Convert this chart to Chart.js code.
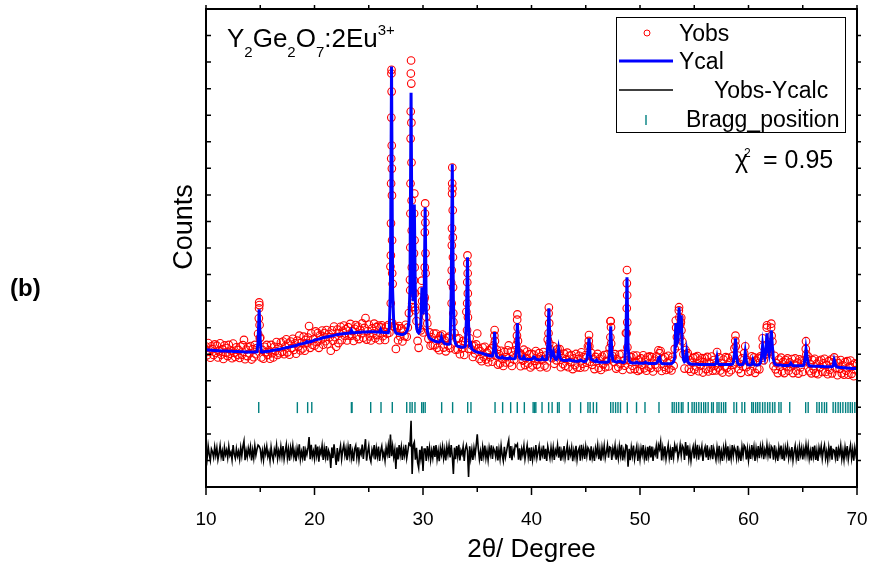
<!DOCTYPE html>
<html>
<head>
<meta charset="utf-8">
<title>Y2Ge2O7:2Eu3+ Rietveld refinement</title>
<script src="https://cdn.jsdelivr.net/npm/chart.js@4.4.1/dist/chart.umd.min.js"></script>
<style>
  html, body { margin: 0; padding: 0; background: #fff; }
  #wrap { width: 869px; height: 571px; }
</style>
</head>
<body>
<div id="wrap"><canvas id="myChart" width="869" height="571"></canvas></div>
<script>
// scan: 2theta start and step (degrees)
var scanStart = 10, scanStep = 0.1;

// observed counts, one row per degree (x.0 ... x.9)
var yObs = [
  5290,4960,5420,5100,4870,5300,5190,4970,5370,5050, // 10
  5320,4880,5110,5410,4980,5190,4820,5330,5060,5230, // 11
  4930,5350,5020,5140,4850,5400,5060,4900,5260,4980, // 12
  5160,4860,5290,4980,5340,5540,4810,5170,4930,5260, // 13
  5030,5310,4800,5190,4890,5350,5000,5230,5770,6950, // 14
  5630,4880,5160,4830,5280,5070,5350,4970,5150,4830, // 15
  5350,5040,4880,5280,5120,5460,4970,5260,5040,5440, // 16
  5090,5480,5000,5290,5560,5070,5400,4980,5480,5230, // 17
  5580,5160,5410,5020,5510,5290,5700,5140,5430,5220, // 18
  5660,5130,5540,5420,5630,6060,5240,5790,5360,5570, // 19
  5320,5860,5460,5800,5240,5710,5560,5890,5360,5800, // 20
  5490,5910,5380,5760,5640,5130,5900,5510,6040,5640, // 21
  5280,5930,5420,5790,6030,5530,5880,6080,5690,5940, // 22
  5520,6020,5700,6140,5700,5870,5500,5960,6100,5660, // 23
  6040,5570,5920,5790,6160,5620,5990,6360,5550,5870, // 24
  6120,5670,5520,5970,5790,6150,5600,6020,5720,6080, // 25
  5530,6010,6090,5680,5850,5540,6030,5770,6100,5810, // 26
  8300,15710,7650,6050,6020,5200,5990,5530,6060,5670, // 27
  5970,5480,5890,5680,6110,5660,6010,6550,7800,16060, // 28
  6910,7300,11050,6650,6250,5500,5240,5970,5900,7770, // 29
  5820,7050,10680,6400,6160,5580,5820,5320,5640,5350, // 30
  5780,5340,5780,5240,5540,5150,5690,5580,5740,5250, // 31
  5520,5110,5610,5320,5660,5230,7700,12030,6210,5800, // 32
  5170,5590,5180,5600,5000,5360,5220,5500,4970,5450, // 33
  6600,8720,5200,5600,5200,5330,4900,5320,5030,5370, // 34
  5780,5220,4820,5110,4740,5250,4900,5280,4800,5060, // 35
  4700,5150,4890,5220,4720,5330,5910,4950,5170,4610, // 36
  5000,4650,5130,4820,4560,5080,4690,4890,5150,5330, // 37
  4690,5100,4560,4950,4790,5150,5350,6500,5050,5050, // 38
  4550,4970,4760,5170,4590,4850,5100,4650,5000,4500, // 39
  5010,4580,4990,4750,5120,4610,4820,5040,4510,4920, // 40
  4800,5080,4570,4950,4500,5550,6760,5200,5100,4850, // 41
  5300,4640,4930,4770,5190,5020,5190,4510,4850,4630, // 42
  5020,4560,4810,5060,4510,4940,4710,4970,4440,4840, // 43
  4590,5010,4500,4820,4940,4490,5070,4640,4890,4510, // 44
  4970,4680,5300,5720,4720,5050,4600,4820,4440,4900, // 45
  4740,5010,4480,4830,4410,4910,4620,4970,4510,4740, // 46
  5000,4540,5230,6250,4840,4920,4710,5000,4460,4810, // 47
  4520,4990,4630,5010,4410,4760,4570,5800,8170,4780, // 48
  4910,4430,4890,4570,4950,4440,4710,4950,4370,4780, // 49
  4420,4840,4600,4960,4470,4790,4380,4890,4530,4920, // 50
  4480,4890,4350,4750,4610,4920,4490,5150,5040,5120, // 51
  4370,4830,4530,4890,4410,4680,4940,4460,4760,4390, // 52
  4900,4570,5200,6270,5650,5300,6770,6100,6370,5480, // 53
  5000,4460,5160,4980,5040,4450,4770,4340,4680,4860, // 54
  4420,4890,4540,4930,4360,4760,4580,4850,4310,4700, // 55
  4840,4440,4900,4350,4690,4500,4910,4380,4780,4570, // 56
  4390,5080,4500,4880,4390,4670,4310,4800,4530,4890, // 57
  4480,4860,4320,4720,4400,4920,4600,5220,5700,4700, // 58
  4950,4440,4640,4300,4840,4530,5040,5300,4510,4770, // 59
  4330,4710,4370,4920,4720,4880,4300,4760,4450,4860, // 60
  4430,4920,4860,5600,4770,4970,5020,6090,5100,5200, // 61
  5100,6150,5480,4550,4940,4430,4660,4290,4800,4530, // 62
  4870,4350,4710,4290,4780,4540,4840,4380,4690,4510, // 63
  4820,4290,4610,4840,4380,4680,4270,4810,4500,4760, // 64
  4330,4750,4700,5490,4820,4910,4360,4630,4280,4780, // 65
  4430,4830,4290,4640,4250,4750,4510,4790,4330,4660, // 66
  4830,4330,4590,4250,4740,4410,4800,4280,4690,4880, // 67
  4470,4760,4210,4660,4450,4780,4280,4580,4230,4700, // 68
  4380,4740,4230,4530,4760,4260,4590,4170,4660,4400, // 69
  4630                                                // 70
];

// calculated profile, same grid
var yCalc = [
  5170,5170,5160,5160,5150,5150,5150,5140,5140,5140, // 10
  5130,5130,5130,5130,5120,5120,5120,5120,5120,5120, // 11
  5110,5110,5110,5110,5110,5100,5100,5100,5100,5100, // 12
  5100,5090,5090,5090,5090,5090,5080,5080,5080,5080, // 13
  5080,5080,5080,5080,5080,5080,5080,5090,5470,6690, // 14
  5480,5090,5080,5090,5090,5100,5100,5110,5110,5120, // 15
  5130,5140,5150,5150,5160,5170,5180,5180,5190,5200, // 16
  5210,5220,5230,5240,5250,5250,5260,5270,5280,5290, // 17
  5300,5310,5320,5330,5340,5360,5370,5380,5390,5400, // 18
  5410,5420,5430,5480,5450,5460,5470,5480,5500,5510, // 19
  5530,5540,5550,5560,5570,5580,5590,5610,5620,5630, // 20
  5640,5650,5660,5670,5680,5690,5690,5700,5710,5720, // 21
  5730,5740,5740,5750,5760,5760,5770,5770,5780,5780, // 22
  5790,5790,5800,5800,5900,5810,5810,5810,5820,5820, // 23
  5830,5830,5830,5830,5840,5840,5840,5840,5840,5840, // 24
  5850,5850,5850,5850,5850,5850,5840,5840,5840,5840, // 25
  5830,5930,5830,5830,5820,5820,5820,5810,5810,6000, // 26
  7600,15830,7400,6200,5900,5800,5780,5770,5760,5750, // 27
  5740,5740,5750,5770,5800,5860,5950,6200,7500,14850, // 28
  7700,7000,10640,6900,6050,5850,5800,5850,6100,7520, // 29
  6500,6900,10530,6700,5900,5700,5620,5580,5550,5530, // 30
  5510,5490,5480,5470,5460,5460,5500,5640,5500,5450, // 31
  5400,5390,5380,5380,5380,5400,7400,12150,7000,5600, // 32
  5400,5330,5300,5290,5280,5270,5260,5260,5270,5300, // 33
  6300,8650,6100,5350,5400,5200,5160,5130,5110,5090, // 34
  5080,5070,5060,5050,5040,5030,5010,5000,4990,4970, // 35
  4960,4950,4940,4930,4940,5150,5830,5100,4920,4890, // 36
  4870,4860,4860,4900,4860,4850,4850,4840,4840,4840, // 37
  4880,4840,4830,4830,4830,4850,5100,6170,5300,4870, // 38
  4830,4820,4820,4900,4820,4810,4810,4800,4800,4800, // 39
  4800,4830,4900,4880,4820,4800,4790,4790,4790,4800, // 40
  4870,4800,4790,4790,4800,5300,6730,5400,4900,5000, // 41
  5100,4900,4820,4800,4900,5200,4950,4800,4780,4770, // 42
  4760,4760,4760,4760,4780,4800,4770,4760,4750,4750, // 43
  4740,4740,4740,4740,4750,4780,4760,4740,4730,4730, // 44
  4740,4800,5100,5600,5000,4800,4780,4760,4740,4720, // 45
  4780,4720,4710,4700,4700,4700,4700,4700,4700,4700, // 46
  4700,4720,5000,6050,5100,4750,4740,4720,4710,4700, // 47
  4720,4740,4720,4700,4690,4690,4720,5500,7900,5300, // 48
  4750,4700,4680,4670,4670,4670,4670,4700,4670,4660, // 49
  4660,4660,4660,4660,4670,4700,4670,4660,4650,4650, // 50
  4650,4650,4650,4650,4650,4660,4700,4850,4890,4700, // 51
  4650,4640,4640,4640,4640,4640,4640,4640,4640,4650, // 52
  4680,4720,4900,6170,5400,5500,6770,5800,6470,5200, // 53
  4800,4720,4750,5080,4750,4660,4640,4630,4620,4620, // 54
  4620,4620,4620,4620,4610,4610,4610,4610,4610,4610, // 55
  4610,4610,4610,4610,4610,4610,4610,4610,4610,4610, // 56
  4650,4880,4650,4610,4610,4610,4610,4610,4610,4610, // 57
  4610,4610,4610,4610,4610,4620,4700,5000,5600,4900, // 58
  4680,4620,4600,4600,4610,4620,4750,5080,4750,4620, // 59
  4600,4590,4590,4620,4780,4650,4600,4590,4590,4600, // 60
  4620,4680,4900,5340,5000,4850,5100,5790,5200,5000, // 61
  5300,5900,5300,4800,4650,4610,4600,4590,4590,4590, // 62
  4590,4580,4580,4580,4580,4580,4580,4580,4600,4660, // 63
  4600,4570,4570,4570,4570,4570,4570,4570,4570,4570, // 64
  4570,4600,4800,5190,4900,4650,4570,4560,4560,4550, // 65
  4550,4550,4550,4550,4550,4550,4540,4540,4540,4540, // 66
  4530,4530,4530,4530,4530,4530,4530,4530,4560,4780, // 67
  4650,4530,4510,4510,4500,4500,4500,4490,4490,4490, // 68
  4480,4480,4470,4470,4470,4460,4460,4460,4460,4460, // 69
  4450                                                // 70
];

// residual Yobs - Ycalc, same grid
var yDiff = [
  120,-210,260,-60,-280,150,40,-170,230,-90,      // 10
  190,-250,-20,280,-140,70,-300,210,-60,110,      // 11
  -180,240,-90,30,-260,300,-40,-200,160,-120,     // 12
  60,-230,200,-110,250,450,-270,90,-150,180,      // 13
  -50,230,-280,110,-190,270,-80,140,300,260,      // 14
  150,-210,80,-260,190,-30,250,-140,40,-290,      // 15
  220,-100,-270,130,-40,290,-210,80,-150,240,     // 16
  -120,260,-230,50,310,-180,140,-290,200,-60,     // 17
  280,-150,90,-310,170,-70,330,-240,40,-180,      // 18
  250,-290,110,-60,180,600,-230,310,-140,60,      // 19
  -210,320,-90,240,-330,130,-30,280,-260,170,     // 20
  -150,260,-280,90,-40,-560,210,-190,330,-80,     // 21
  -450,190,-320,40,270,-230,110,310,-90,160,      // 22
  -270,230,-100,340,-200,60,-310,150,280,-160,    // 23
  210,-260,90,-40,320,-220,150,520,-290,30,       // 24
  270,-180,-330,120,-60,300,-240,180,-120,240,    // 25
  -300,80,260,-150,30,-280,210,-40,290,-190,      // 26
  700,-120,250,-150,120,-600,210,-240,300,-80,    // 27
  230,-260,140,-90,310,-200,60,350,300,1210,      // 28
  -790,300,410,-250,200,-350,-560,120,-200,250,   // 29
  -680,150,150,-300,260,-120,200,-260,90,-180,    // 30
  270,-150,300,-230,80,-310,190,-60,240,-200,     // 31
  120,-280,230,-60,280,-170,300,-120,-790,200,    // 32
  -230,260,-120,310,-280,90,-40,240,-300,150,     // 33
  300,70,-900,250,-200,130,-260,190,-80,280,      // 34
  700,150,-240,60,-300,220,-110,280,-190,90,      // 35
  -260,200,-50,290,-220,180,80,-150,250,-280,     // 36
  130,-210,270,-80,-300,230,-160,50,310,490,      // 37
  -190,260,-270,120,-40,300,250,330,-250,180,     // 38
  -280,150,-60,270,-230,40,290,-150,200,-300,     // 39
  210,-250,90,-130,300,-190,30,250,-280,120,      // 40
  -70,280,-220,160,-300,250,30,-200,200,-150,     // 41
  200,-260,110,-30,290,-180,240,-290,70,-140,     // 42
  260,-200,50,300,-270,140,-60,210,-310,90,       // 43
  -150,270,-240,80,190,-290,310,-100,160,-220,    // 44
  230,-120,200,120,-280,250,-180,60,-300,180,     // 45
  -40,290,-230,130,-290,210,-80,270,-190,40,      // 46
  300,-180,230,200,-260,170,-30,280,-250,110,     // 47
  -200,250,-90,310,-280,70,-150,300,270,-520,     // 48
  160,-270,210,-100,280,-230,40,250,-300,120,     // 49
  -240,180,-60,300,-200,90,-290,230,-120,270,     // 50
  -170,240,-300,100,-40,260,-210,300,150,420,     // 51
  -280,190,-110,250,-230,40,300,-180,120,-260,    // 52
  220,-150,300,100,250,-200,0,300,-100,280,       // 53
  200,-260,410,-100,290,-210,130,-290,60,240,     // 54
  -200,270,-80,310,-250,150,-30,240,-300,90,      // 55
  230,-170,290,-260,80,-110,300,-230,170,-40,     // 56
  -260,200,-150,270,-220,60,-300,190,-80,280,     // 57
  -130,250,-290,110,-210,300,-100,220,100,-200,   // 58
  270,-180,40,-300,230,-90,290,220,-240,150,      // 59
  -270,120,-220,300,-60,230,-300,170,-140,260,    // 60
  -190,240,-40,260,-230,120,-80,300,-100,200,     // 61
  -200,250,180,-250,290,-180,60,-300,210,-60,     // 62
  280,-230,130,-290,200,-40,260,-200,90,-150,     // 63
  220,-280,40,270,-190,110,-300,240,-70,190,      // 64
  -240,150,-100,300,-80,260,-210,70,-280,230,     // 65
  -120,280,-260,90,-300,200,-30,250,-210,120,     // 66
  300,-200,60,-280,210,-120,270,-250,130,100,     // 67
  -180,230,-300,150,-50,280,-220,90,-260,210,     // 68
  -100,260,-240,60,290,-200,130,-290,200,-60,     // 69
  180                                             // 70
];

// extra observed points measured on the flanks of the strong reflections [2theta, counts]
var flankObs = [
  [14.87,6350],[14.89,6730],[14.92,6850],[14.94,6100],[14.96,5600],
  [27.09,15570],[27.11,14890],[27.08,13910],[27.12,12860],[27.07,12370],[27.13,11990],[27.06,11430],
  [27.14,10980],[27.05,9930],[27.15,9290],[27.04,8720],[27.16,8050],[27.03,6920],[27.17,6170],
  [28.88,15570],[28.92,15190],[28.87,14140],[28.93,13720],[28.86,13120],[28.94,12220],[28.85,11430],
  [28.95,10790],[28.84,10300],[28.96,9660],[28.83,9020],[28.97,8270],[28.82,7410],[28.98,6770],
  [29.18,10300],[29.22,9290],[29.17,8800],[29.23,8270],[29.16,7780],[29.24,7290],[29.26,6770],
  [29.88,7400],[29.92,7000],
  [30.18,10300],[30.22,9960],[30.17,9590],[30.23,8800],[30.16,8270],[30.24,8050],[30.15,7140],[30.26,6770],
  [32.69,11430],[32.72,11240],[32.68,11050],[32.74,10420],[32.67,9740],[32.75,9400],[32.66,9100],
  [32.76,8650],[32.65,8160],[32.77,7520],[32.64,6920],[32.79,6540],
  [34.09,8420],[34.12,8050],[34.08,7710],[34.13,7290],[34.07,6920],[34.14,6390],[34.06,5900],
  [36.58,5700],[36.63,5500],
  [38.68,6300],[38.73,6000],[38.66,5700],[38.75,5500],
  [41.58,6540],[41.63,6170],[41.57,5790],[41.64,5410],
  [45.28,5500],[45.33,5300],
  [47.28,6240],[47.33,6020],[47.27,5640],[47.34,5400],
  [48.79,7670],[48.82,7220],[48.78,6730],[48.83,6200],[48.77,5790],[48.84,5260],
  [53.58,6650],[53.63,6390],[53.33,6000],[53.55,5900],[53.70,5640],[53.77,6200],[53.82,5900],
  [58.78,5500],[58.83,5300],
  [61.68,6000],[62.08,6000],[62.13,5700],[61.33,5300],
  [65.28,5200],[65.33,5000]
];

// Bragg reflection positions (2theta)
var braggPos = [
  14.86, 18.42, 19.37, 19.75, 23.40, 23.46, 25.18, 26.13, 27.17, 28.50, 28.80, 29.00, 29.26,
  29.88, 30.03, 30.20, 31.72, 32.73, 34.12, 34.42, 36.64, 37.34, 38.08, 38.69, 39.34, 40.15,
  40.28, 40.40, 40.97, 41.58, 41.90, 42.40, 42.55, 43.55, 44.53, 45.20, 45.40, 45.70, 46.00,
  47.30, 47.52, 47.75, 47.97, 48.20, 48.83, 49.68, 50.46, 51.75, 52.97, 53.15, 53.36, 53.57,
  53.81, 53.96, 54.45, 54.80, 55.00, 55.20, 55.42, 55.65, 55.87, 56.05, 56.28, 56.60, 56.76,
  57.10, 57.28, 57.50, 57.71, 57.90, 58.66, 58.90, 59.40, 59.65, 60.30, 60.45, 60.66, 60.85,
  61.05, 61.30, 61.52, 61.76, 61.97, 62.22, 62.43, 62.80, 63.00, 63.80, 65.27, 65.50, 66.30,
  66.52, 66.76, 67.00, 67.20, 67.80, 68.02, 68.26, 68.47, 68.70, 68.95, 69.17, 69.38, 69.57, 69.80
];

var xTicks = [10, 20, 30, 40, 50, 60, 70];
var xMinorTicks = [15, 25, 35, 45, 55, 65];
var yMax = 18000, yTickStep = 1000;

var FONT = '"Liberation Sans", Arial, sans-serif';
var diffOffset = 1280;   // baseline of the difference curve
var braggLevel = 2990;   // height of the Bragg tick row

var twoTheta = yObs.map(function (v, i) { return +(scanStart + i * scanStep).toFixed(1); });

var obsPoints = twoTheta.map(function (x, i) { return { x: x, y: yObs[i] }; })
  .concat(flankObs.map(function (p) { return { x: p[0], y: p[1] }; }));
var calcPoints = twoTheta.map(function (x, i) { return { x: x, y: yCalc[i] }; });
var diffPoints = twoTheta.map(function (x, i) { return { x: x, y: yDiff[i] + diffOffset }; });
var braggPoints = braggPos.map(function (x) { return { x: x, y: braggLevel }; });

// frame, ticks and the text annotations
var decor = {
  id: 'decor',
  afterDraw: function (chart) {
    var c = chart.ctx, a = chart.chartArea, xs = chart.scales.x, ys = chart.scales.y;
    var ds = chart.data.datasets;
    c.save();

    c.strokeStyle = '#000';
    c.lineWidth = 2;
    c.strokeRect(a.left, a.top, a.right - a.left, a.bottom - a.top);

    c.lineWidth = 1.5;
    c.beginPath();
    xTicks.forEach(function (v) {
      var p = xs.getPixelForValue(v);
      c.moveTo(p, a.bottom); c.lineTo(p, a.bottom + 8);
      c.moveTo(p, a.top); c.lineTo(p, a.top - 4);
    });
    xMinorTicks.forEach(function (v) {
      var p = xs.getPixelForValue(v);
      c.moveTo(p, a.bottom); c.lineTo(p, a.bottom + 5);
      c.moveTo(p, a.top); c.lineTo(p, a.top - 4);
    });
    for (var v = yTickStep; v < yMax; v += yTickStep) {
      var p = ys.getPixelForValue(v);
      c.moveTo(a.left, p); c.lineTo(a.left + 5, p);
      c.moveTo(a.right, p); c.lineTo(a.right + 4, p);
    }
    c.stroke();

    c.fillStyle = '#000';
    c.textAlign = 'left';
    c.textBaseline = 'alphabetic';

    c.font = 'bold 24px ' + FONT;
    c.fillText('(b)', 10, 296);

    c.save();
    c.translate(185, 227);
    c.rotate(-Math.PI / 2);
    c.font = '27px ' + FONT;
    c.textAlign = 'center';
    c.textBaseline = 'middle';
    c.fillText('Counts', 0, 0);
    c.restore();

    // sample formula with sub/superscripts
    var parts = [['Y', 0], ['2', 1], ['Ge', 0], ['2', 1], ['O', 0], ['7', 1], [':2Eu', 0], ['3+', 2]];
    var px = 227, base = 47;
    parts.forEach(function (t) {
      c.font = (t[1] === 0 ? '26px ' : '15px ') + FONT;
      var yy = t[1] === 1 ? base + 10 : (t[1] === 2 ? base - 12 : base);
      c.fillText(t[0], px, yy);
      px += c.measureText(t[0]).width;
    });

    // legend
    c.lineWidth = 1;
    c.strokeStyle = '#000';
    c.strokeRect(616.5, 17.5, 229, 115);

    c.beginPath();
    c.arc(647, 33, 3, 0, 2 * Math.PI);
    c.strokeStyle = ds[1].borderColor;
    c.lineWidth = 1;
    c.stroke();

    c.beginPath();
    c.moveTo(619, 61); c.lineTo(673, 61);
    c.strokeStyle = ds[0].borderColor;
    c.lineWidth = 3;
    c.stroke();

    c.beginPath();
    c.moveTo(619, 90); c.lineTo(673, 90);
    c.strokeStyle = ds[2].borderColor;
    c.lineWidth = 1.3;
    c.stroke();

    c.beginPath();
    c.moveTo(646, 115); c.lineTo(646, 125);
    c.strokeStyle = ds[3].borderColor;
    c.lineWidth = 1.4;
    c.stroke();

    c.font = '23px ' + FONT;
    c.fillText(ds[1].label, 679, 41);
    c.fillText(ds[0].label, 679, 69);
    c.fillText(ds[2].label, 714, 98);
    c.fillText(ds[3].label, 686, 127);

    // goodness of fit
    c.font = '25px ' + FONT;
    c.fillText('\u03C7', 735, 168);
    c.font = '12px ' + FONT;
    c.fillText('2', 744, 157);
    c.font = '25px ' + FONT;
    c.fillText('= 0.95', 763, 168);

    c.restore();
  }
};

var ctx = document.getElementById('myChart').getContext('2d');
var chart = new Chart(ctx, {
  type: 'scatter',
  data: {
    datasets: [{
      label: 'Ycal',
      data: calcPoints,
      showLine: true,
      borderColor: '#0000ff',
      borderWidth: 3,
      pointRadius: 0,
      tension: 0
    }, {
      label: 'Yobs',
      data: obsPoints,
      pointStyle: 'circle',
      pointRadius: 3.8,
      borderColor: '#ff0000',
      borderWidth: 1.1,
      backgroundColor: 'rgba(0,0,0,0)'
    }, {
      label: 'Yobs-Ycalc',
      data: diffPoints,
      showLine: true,
      borderColor: '#000000',
      borderWidth: 1.6,
      pointRadius: 0,
      tension: 0
    }, {
      label: 'Bragg_position',
      data: braggPoints,
      pointStyle: 'line',
      rotation: 90,
      pointRadius: 5.5,
      borderColor: '#008080',
      borderWidth: 1.4
    }]
  },
  options: {
    responsive: false,
    animation: false,
    devicePixelRatio: 1,
    events: [],
    layout: { padding: { left: 206, right: 12, top: 9, bottom: 0 } },
    plugins: {
      legend: { display: false },
      tooltip: { enabled: false }
    },
    scales: {
      x: {
        type: 'linear',
        min: 10,
        max: 70,
        afterBuildTicks: function (s) { s.ticks = xTicks.map(function (v) { return { value: v }; }); },
        afterFit: function (s) { s.height = 84; s.paddingLeft = 0; s.paddingRight = 0; },
        grid: { display: false, drawTicks: false },
        border: { display: false },
        ticks: { font: { family: FONT, size: 19 }, color: '#000', padding: 21, maxRotation: 0, autoSkip: false },
        title: { display: true, text: '2\u03B8/ Degree', font: { family: FONT, size: 26 }, color: '#000', padding: { top: 0, bottom: 6 } }
      },
      y: {
        display: false,
        min: 0,
        max: yMax
      }
    }
  },
  plugins: [decor]
});
</script>
</body>
</html>
